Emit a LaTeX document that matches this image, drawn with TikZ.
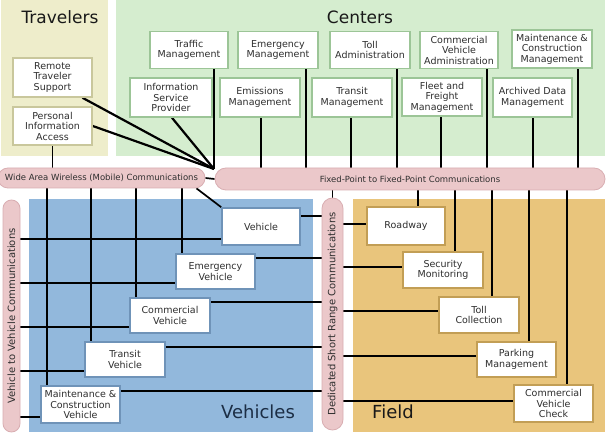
\documentclass[tikz,border=0pt]{standalone}
\usepackage{fontspec}
\setmainfont{DejaVu Sans}
\usetikzlibrary{calc}
\definecolor{travbg}{HTML}{EEEDCB}
\definecolor{centbg}{HTML}{D5EDCF}
\definecolor{vehbg}{HTML}{92B8DC}
\definecolor{fieldbg}{HTML}{E9C57C}
\definecolor{barbg}{HTML}{EBC8CA}
\definecolor{barline}{HTML}{D9AEB2}
\definecolor{travbd}{HTML}{C9C79C}
\definecolor{centbd}{HTML}{9CC597}
\definecolor{vehbd}{HTML}{6F93B8}
\definecolor{fieldbd}{HTML}{C29E55}
\definecolor{txt}{HTML}{2E2E2E}
\definecolor{navy}{HTML}{1C2E45}
\pgfdeclarelayer{regions}
\pgfdeclarelayer{wires}
\pgfsetlayers{regions,wires,main}
\begin{document}
\begin{tikzpicture}[x=1pt,y=-1pt,
  box/.style={draw=#1, line width=1.6pt, fill=white, text=txt, align=center,
    font=\fontsize{9.5}{10.5}\selectfont, inner sep=1pt},
  bar/.style={fill=barbg, draw=barline, line width=0.8pt, text=txt,
    font=\fontsize{8.5}{10}\selectfont, inner sep=0pt},
  vbar/.style={fill=barbg, draw=barline, line width=0.8pt, text=txt, rotate=90,
    font=\fontsize{10}{12}\selectfont, inner sep=0pt},
  region/.style={draw=white, line width=1pt},
  title/.style={text=black!90, font=\fontsize{17}{19}\selectfont},
  wire/.style={line width=1.7pt, black},
  thick wire/.style={line width=2.2pt, black}]
\useasboundingbox (0,0) rectangle (610,435);

% regions
\begin{pgfonlayer}{regions}
  \fill[white] (0,0) rectangle (610,435);
  \path[region, fill=travbg] (0,0) rectangle (108,157);
  \path[region, fill=centbg] (115,0) rectangle (605,157);
  \path[region, fill=vehbg] (28,199) rectangle (313,432);
  \path[region, fill=fieldbg] (352,199) rectangle (605,432);
\end{pgfonlayer}

% titles
\node[title] (trt) at (60,17) {Travelers};
\node[title] (cet) at (360,17) {Centers};
\node[title, text=navy, font=\fontsize{18}{20}\selectfont] (vet) at (258,412) {Vehicles};
\node[title, font=\fontsize{18}{20}\selectfont] (fit) at (393,412) {Field};

% travelers
\node[box=travbd, minimum width=79pt, minimum height=39pt] (rts) at (52.5,77.5) {Remote\\Traveler\\Support};
\node[box=travbd, minimum width=79pt, minimum height=38pt] (pia) at (52.5,126) {Personal\\Information\\Access};

% centers row 1
\node[box=centbd, minimum width=78pt, minimum height=37pt] (tm) at (189,50) {Traffic\\Management};
\node[box=centbd, minimum width=80pt, minimum height=37pt] (em) at (278,50) {Emergency\\Management};
\node[box=centbd, minimum width=80pt, minimum height=37pt] (ta) at (370,50) {Toll\\Administration};
\node[box=centbd, minimum width=78pt, minimum height=37pt] (cva) at (459,50) {Commercial\\Vehicle\\Administration};
\node[box=centbd, minimum width=80pt, minimum height=38pt] (mcm) at (552,49) {Maintenance \&\\Construction\\Management};
% centers row 2
\node[box=centbd, minimum width=82pt, minimum height=39pt] (isp) at (171,97.5) {Information\\Service\\Provider};
\node[box=centbd, minimum width=80pt, minimum height=39pt] (emm) at (260,97.5) {Emissions\\Management};
\node[box=centbd, minimum width=80pt, minimum height=39pt] (trm) at (352,97.5) {Transit\\Management};
\node[box=centbd, minimum width=80pt, minimum height=38pt] (ffm) at (442,97) {Fleet and\\Freight\\Management};
\node[box=centbd, minimum width=79pt, minimum height=39pt] (adm) at (532.5,97.5) {Archived Data\\Management};

% communication bars
\node[bar, minimum width=207pt, minimum height=20pt, rounded corners=10pt] (waw) at (101.5,178) {Wide Area Wireless (Mobile) Communications};
\node[bar, minimum width=390pt, minimum height=22pt, rounded corners=11pt] (fp) at (410,179) {Fixed-Point to Fixed-Point Communications};
\node[vbar, minimum width=232pt, minimum height=17pt, rounded corners=8.5pt] (v2v) at (11.5,316) {Vehicle to Vehicle Communications};
\node[vbar, minimum width=232pt, minimum height=21pt, rounded corners=10.5pt] (dsrc) at (332.5,314) {Dedicated Short Range Communications};

% vehicles
\node[box=vehbd, minimum width=78pt, minimum height=37pt] (veh) at (261,226.5) {Vehicle};
\node[box=vehbd, minimum width=79pt, minimum height=35pt] (ev) at (215.5,271.5) {Emergency\\Vehicle};
\node[box=vehbd, minimum width=80pt, minimum height=35pt] (cv) at (170,315.5) {Commercial\\Vehicle};
\node[box=vehbd, minimum width=80pt, minimum height=35pt] (tv) at (125,359.5) {Transit\\Vehicle};
\node[box=vehbd, minimum width=79pt, minimum height=37pt] (mcv) at (80.5,404.5) {Maintenance \&\\Construction\\Vehicle};

% field
\node[box=fieldbd, minimum width=78pt, minimum height=38pt] (rw) at (406,226) {Roadway};
\node[box=fieldbd, minimum width=80pt, minimum height=36pt] (sm) at (443,270) {Security\\Monitoring};
\node[box=fieldbd, minimum width=80pt, minimum height=36pt] (tc) at (479,315) {Toll\\Collection};
\node[box=fieldbd, minimum width=79pt, minimum height=35pt] (pm) at (516.5,359.5) {Parking\\Management};
\node[box=fieldbd, minimum width=79pt, minimum height=37pt] (cvc) at (553.5,403.5) {Commercial\\Vehicle\\Check};

\coordinate (hub) at (214,169);

\begin{pgfonlayer}{wires}
  % travelers and ISP to hub
  \draw[thick wire] ([xshift=30pt]rts.south) -- (hub);
  \draw[thick wire] (pia.east) -- (hub);
  \draw[thick wire] ([xshift=1pt]isp.south) -- (hub);
  \draw[wire] ([xshift=25pt]tm.south) -- (hub);
  \draw[wire] (pia.south) -- (pia.south |- waw.north);
  % centers to fixed-point bar
  \foreach \n/\s in {em/28, ta/27, cva/28, mcm/26, emm/1, trm/-1, ffm/-1, adm/0.5}{
    \coordinate (c\n) at ([xshift=\s pt]\n.south);
    \draw[wire] (c\n) -- (c\n |- fp.north);
  }
  \draw[wire] (waw.east) -- (fp.west);
  % wide area to vehicle
  \draw[wire] ([xshift=95pt]waw.south) -- (veh.north west);
  % vehicles up to wide area bar
  \foreach \n in {ev,cv,tv,mcv}{
    \coordinate (u\n) at ([xshift=7pt]\n.north west);
    \draw[wire] (u\n) -- (u\n |- waw.south);
  }
  % vehicles left to V2V
  \foreach \n in {veh,ev,cv,tv,mcv}{
    \coordinate (l\n) at ([yshift=7pt]\n.south west);
    \draw[wire] (l\n) -- (l\n -| v2v.south);
  }
  % vehicles right to DSRC
  \foreach \n/\s in {veh/9,ev/5,cv/5,tv/6,mcv/6}{
    \coordinate (r\n) at ([yshift=-\s pt]\n.north east);
    \draw[wire] (r\n) -- (r\n -| dsrc.north);
  }
  % DSRC to fixed-point
  \draw[wire] (dsrc.east) -- (dsrc.east |- fp.south);
  % field up to fixed-point
  \foreach \n/\s in {rw/12,sm/12,tc/13,pm/12.5,cvc/13.5}{
    \coordinate (f\n) at ([xshift=\s pt]\n.north);
    \draw[wire] (f\n) -- (f\n |- fp.south);
  }
  % field left to DSRC
  \foreach \n/\s in {rw/2,sm/3,tc/4,pm/3.5,cvc/2.5}{
    \coordinate (g\n) at ([yshift=\s pt]\n.west);
    \draw[wire] (g\n) -- (g\n -| dsrc.south);
  }
\end{pgfonlayer}
\end{tikzpicture}
\end{document}
